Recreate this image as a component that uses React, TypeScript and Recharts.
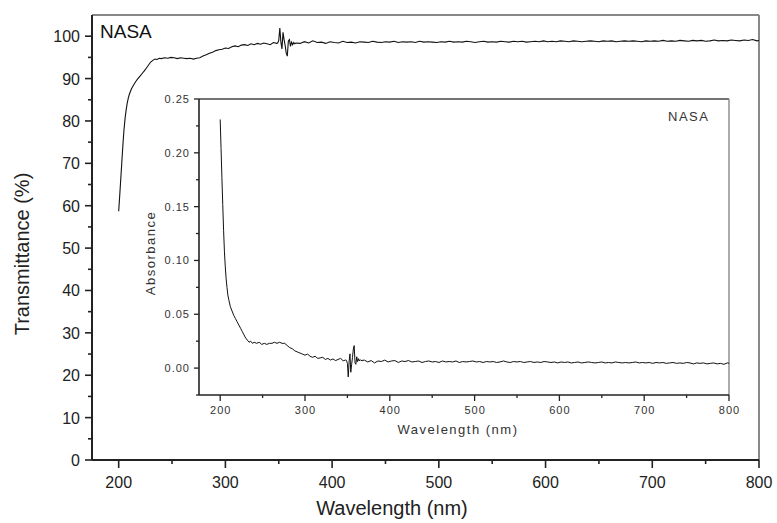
import React from 'react';
import { LineChart, Line, XAxis, YAxis, ReferenceLine, Label } from 'recharts';

const wavelengths = [
  200, 201, 202, 203, 204, 205, 206, 207, 208, 209, 210, 212, 214, 216, 218, 220, 222, 224, 226, 228, 230, 232, 234, 236, 238, 240, 243, 246, 249,
  252, 255, 258, 261, 264, 267, 270, 273, 276, 279, 282, 285, 288, 291, 294, 297, 300, 303, 306, 309, 312, 315, 318, 321, 324, 327, 330, 333, 336, 339, 342, 345, 348,
  349, 350, 351, 352, 353, 354, 355, 356, 357, 358, 359, 360, 361, 362, 363, 364, 365, 366,
  370, 374, 378, 382, 386, 390, 394, 398, 402, 406, 410, 414, 418, 422, 426, 430, 434, 438, 442, 446, 450, 454, 458, 462, 466, 470, 474, 478, 482, 486, 490, 494, 498,
  502, 506, 510, 514, 518, 522, 526, 530, 534, 538, 542, 546, 550, 554, 558, 562, 566, 570, 574, 578, 582, 586, 590, 594, 598,
  602, 606, 610, 614, 618, 622, 626, 630, 634, 638, 642, 646, 650, 654, 658, 662, 666, 670, 674, 678, 682, 686, 690, 694, 698,
  702, 706, 710, 714, 718, 722, 726, 730, 734, 738, 742, 746, 750, 754, 758, 762, 766, 770, 774, 778, 782, 786, 790, 794, 798, 800,
];

const transmittance = [
  58.7, 62.5, 66.5, 70.5, 74.5, 78.0, 80.6, 82.6, 84.2, 85.4, 86.3, 87.6, 88.5, 89.3, 90.0, 90.6, 91.2, 91.8, 92.5, 93.2, 93.9, 94.3, 94.6, 94.5, 94.8, 94.7, 94.9, 94.8, 95.0,
  94.9, 94.7, 94.9, 94.8, 94.7, 94.8, 94.6, 94.8, 94.9, 95.3, 95.6, 96.0, 96.2, 96.6, 96.8, 96.9, 97.2, 97.1, 97.5, 97.7, 97.5, 97.9, 98.0, 97.8, 98.2, 98.0, 98.3, 98.1, 98.4, 98.2, 98.0, 98.5, 98.3,
  98.4, 99.0, 101.9, 98.6, 97.0, 100.9, 99.2, 97.8, 96.0, 95.3, 98.9, 99.2, 97.6, 98.6, 98.0, 98.5, 98.2, 98.4,
  98.3, 98.7, 98.4, 98.9, 98.5, 98.6, 98.3, 98.7, 98.5, 98.4, 98.8, 98.5, 98.6, 98.4, 98.7, 98.6, 98.5, 98.8, 98.6, 98.5, 98.7, 98.6, 98.8, 98.5, 98.7, 98.6, 98.7, 98.5, 98.8, 98.6, 98.7, 98.6, 98.5,
  98.7, 98.6, 98.8, 98.6, 98.7, 98.6, 98.8, 98.7, 98.5, 98.7, 98.8, 98.6, 98.7, 98.6, 98.8, 98.7, 98.6, 98.8, 98.7, 98.8, 98.6, 98.7, 98.8, 98.7, 98.9,
  98.7, 98.8, 98.7, 98.9, 98.8, 98.7, 98.9, 98.8, 98.7, 98.8, 98.9, 98.8, 98.7, 98.9, 98.8, 98.9, 98.7, 98.8, 98.9, 98.8, 98.9, 98.8, 98.7, 98.9, 98.8,
  98.9, 98.8, 99.0, 98.8, 98.9, 98.8, 99.0, 98.9, 98.8, 99.0, 98.9, 99.0, 98.8, 98.9, 99.1, 98.9, 99.0, 98.9, 99.1, 99.0, 98.9, 99.1, 99.0, 99.2, 98.9, 99.0,
];

const absorbance = [
  0.231, 0.204, 0.177, 0.152, 0.128, 0.108, 0.094, 0.083, 0.075, 0.068, 0.064, 0.057, 0.053, 0.049, 0.046, 0.043, 0.040, 0.037, 0.034, 0.031, 0.028, 0.026, 0.024, 0.025, 0.023, 0.024, 0.023, 0.024, 0.022,
  0.023, 0.022, 0.023, 0.023, 0.024, 0.023, 0.024, 0.023, 0.023, 0.021, 0.019, 0.018, 0.016, 0.015, 0.014, 0.013, 0.012, 0.013, 0.011, 0.010, 0.011, 0.009, 0.0095, 0.010, 0.008, 0.009, 0.0075, 0.0085, 0.007, 0.008, 0.009, 0.0068, 0.0075,
  0.007, 0.0044, -0.0082, 0.006, 0.0132, -0.0039, 0.0035, 0.0097, 0.0177, 0.0209, 0.0048, 0.0035, 0.0105, 0.006, 0.0088, 0.0066, 0.0079, 0.007,
  0.0074, 0.0057, 0.0070, 0.0048, 0.0066, 0.0061, 0.0074, 0.0057, 0.0066, 0.0070, 0.0052, 0.0066, 0.0061, 0.0070, 0.0057, 0.0061, 0.0066, 0.0052, 0.0061, 0.0066, 0.0057, 0.0061, 0.0052, 0.0066, 0.0057, 0.0061, 0.0057, 0.0066, 0.0052, 0.0061, 0.0057, 0.0061, 0.0066,
  0.0057, 0.0061, 0.0052, 0.0061, 0.0057, 0.0061, 0.0052, 0.0057, 0.0066, 0.0057, 0.0052, 0.0061, 0.0057, 0.0061, 0.0052, 0.0057, 0.0061, 0.0052, 0.0057, 0.0052, 0.0061, 0.0057, 0.0052, 0.0057, 0.0048,
  0.0057, 0.0052, 0.0057, 0.0048, 0.0052, 0.0057, 0.0048, 0.0052, 0.0057, 0.0052, 0.0048, 0.0052, 0.0057, 0.0048, 0.0052, 0.0048, 0.0057, 0.0052, 0.0048, 0.0052, 0.0048, 0.0052, 0.0057, 0.0048, 0.0052,
  0.0048, 0.0052, 0.0044, 0.0052, 0.0048, 0.0052, 0.0044, 0.0048, 0.0052, 0.0044, 0.0048, 0.0044, 0.0052, 0.0048, 0.0039, 0.0048, 0.0044, 0.0048, 0.0039, 0.0044, 0.0048, 0.0039, 0.0044, 0.0035, 0.0048, 0.0044,
];

const mainXTicks = [200, 250, 300, 350, 400, 450, 500, 550, 600, 650, 700, 750, 800];
const mainYTicks = [0, 5, 10, 15, 20, 25, 30, 35, 40, 45, 50, 55, 60, 65, 70, 75, 80, 85, 90, 95, 100];
const insetXTicks = [200, 250, 300, 350, 400, 450, 500, 550, 600, 650, 700, 750, 800];
const insetYTicks = [-0.025, 0, 0.025, 0.05, 0.075, 0.1, 0.125, 0.15, 0.175, 0.2, 0.225, 0.25];

const data = wavelengths.map((w, i) => ({ w, t: transmittance[i], a: absorbance[i] }));

const FONT = '"Liberation Sans", Arial, sans-serif';
const AX = '#222';

const MainXTick = (props: any) => {
  const { x, y, payload } = props;
  const major = payload.value % 100 === 0;
  return (
    <g>
      <line x1={x} x2={x} y1={y} y2={y + (major ? 8 : 4)} stroke={AX} strokeWidth={1.6} />
      {major && (
        <text x={x} y={y + 28} textAnchor="middle" fontSize={16} fill="#222" fontFamily={FONT}>
          {payload.value}
        </text>
      )}
    </g>
  );
};

const MainYTick = (props: any) => {
  const { x, y, payload } = props;
  const major = payload.value % 10 === 0;
  return (
    <g>
      <line x1={x} x2={x - (major ? 7 : 4)} y1={y} y2={y} stroke={AX} strokeWidth={1.6} />
      {major && (
        <text x={x - 12} y={y + 6} textAnchor="end" fontSize={16} fill="#222" fontFamily={FONT}>
          {payload.value}
        </text>
      )}
    </g>
  );
};

const InsetXTick = (props: any) => {
  const { x, y, payload } = props;
  const major = payload.value % 100 === 0;
  return (
    <g>
      <line x1={x} x2={x} y1={y} y2={y + (major ? 6 : 3)} stroke={AX} strokeWidth={1.3} />
      {major && (
        <text x={x + 0.5} y={y + 19} textAnchor="middle" fontSize={11} letterSpacing={1} fill="#333" fontFamily={FONT}>
          {payload.value}
        </text>
      )}
    </g>
  );
};

const InsetYTick = (props: any) => {
  const { x, y, payload } = props;
  const v = Math.round(payload.value * 1000);
  const major = v % 50 === 0;
  return (
    <g>
      <line x1={x} x2={x - (major ? 5 : 3)} y1={y} y2={y} stroke={AX} strokeWidth={1.3} />
      {major && (
        <text x={x - 9} y={y + 4} textAnchor="end" fontSize={11} letterSpacing={1} fill="#333" fontFamily={FONT}>
          {payload.value.toFixed(2)}
        </text>
      )}
    </g>
  );
};

export default function App() {
  return (
    <div style={{ position: 'absolute', left: 0, top: 0, width: 777, height: 523, background: '#fff' }}>
      <div style={{ position: 'absolute', left: 0, top: 0 }}>
        <LineChart width={777} height={523} data={data} margin={{ top: 15, right: 18, bottom: 33, left: 0 }}>
          <XAxis
            dataKey="w"
            type="number"
            domain={[175, 800]}
            ticks={mainXTicks}
            interval={0}
            tick={<MainXTick />}
            tickLine={false}
            tickSize={0}
            tickMargin={0}
            height={30}
            axisLine={{ stroke: AX, strokeWidth: 2 }}
            label={
              <Label
                content={() => (
                  <text x={392} y={515} textAnchor="middle" fontSize={20} fill="#222" fontFamily={FONT}>
                    Wavelength (nm)
                  </text>
                )}
              />
            }
          />
          <YAxis
            type="number"
            domain={[0, 105]}
            ticks={mainYTicks}
            interval={0}
            width={92}
            tick={<MainYTick />}
            tickLine={false}
            tickSize={0}
            tickMargin={0}
            axisLine={{ stroke: AX, strokeWidth: 2 }}
            label={
              <Label
                content={() => (
                  <text x={29} y={254} transform="rotate(-90, 29, 254)" textAnchor="middle" fontSize={20} fill="#222" fontFamily={FONT}>
                    Transmittance (%)
                  </text>
                )}
              />
            }
          />
          <ReferenceLine y={105} stroke="#888" strokeWidth={2} />
          <ReferenceLine x={800} stroke="#888" strokeWidth={2} />
          <ReferenceLine
            y={105}
            stroke="none"
            label={
              <Label
                content={() => (
                  <text x={100} y={38} fontSize={19} fill="#111" fontFamily={FONT}>
                    NASA
                  </text>
                )}
              />
            }
          />
          <Line type="linear" dataKey="t" stroke="#111" strokeWidth={1.1} dot={false} isAnimationActive={false} />
        </LineChart>
      </div>
      <div style={{ position: 'absolute', left: 0, top: 0 }}>
        <LineChart width={777} height={523} data={data} margin={{ top: 99, right: 48, bottom: 98, left: 0 }}>
          <XAxis
            dataKey="w"
            type="number"
            domain={[175, 800]}
            ticks={insetXTicks}
            interval={0}
            tick={<InsetXTick />}
            tickLine={false}
            tickSize={0}
            tickMargin={0}
            height={30}
            axisLine={{ stroke: AX, strokeWidth: 1.6 }}
            label={
              <Label
                content={() => (
                  <text x={458} y={434} textAnchor="middle" fontSize={13} letterSpacing={1.5} fill="#333" fontFamily={FONT}>
                    Wavelength (nm)
                  </text>
                )}
              />
            }
          />
          <YAxis
            type="number"
            domain={[-0.025, 0.25]}
            ticks={insetYTicks}
            interval={0}
            width={199}
            tick={<InsetYTick />}
            tickLine={false}
            tickSize={0}
            tickMargin={0}
            axisLine={{ stroke: AX, strokeWidth: 1.6 }}
            label={
              <Label
                content={() => (
                  <text x={155} y={253} transform="rotate(-90, 155, 253)" textAnchor="middle" fontSize={13} letterSpacing={1.5} fill="#333" fontFamily={FONT}>
                    Absorbance
                  </text>
                )}
              />
            }
          />
          <ReferenceLine y={0.25} stroke="#444" strokeWidth={1.4} />
          <ReferenceLine x={800} stroke="#888" strokeWidth={1.4} />
          <ReferenceLine
            y={0.25}
            stroke="none"
            label={
              <Label
                content={() => (
                  <text x={668} y={121} fontSize={13} letterSpacing={1.5} fill="#333" fontFamily={FONT}>
                    NASA
                  </text>
                )}
              />
            }
          />
          <Line type="linear" dataKey="a" stroke="#111" strokeWidth={1} dot={false} isAnimationActive={false} />
        </LineChart>
      </div>
    </div>
  );
}
